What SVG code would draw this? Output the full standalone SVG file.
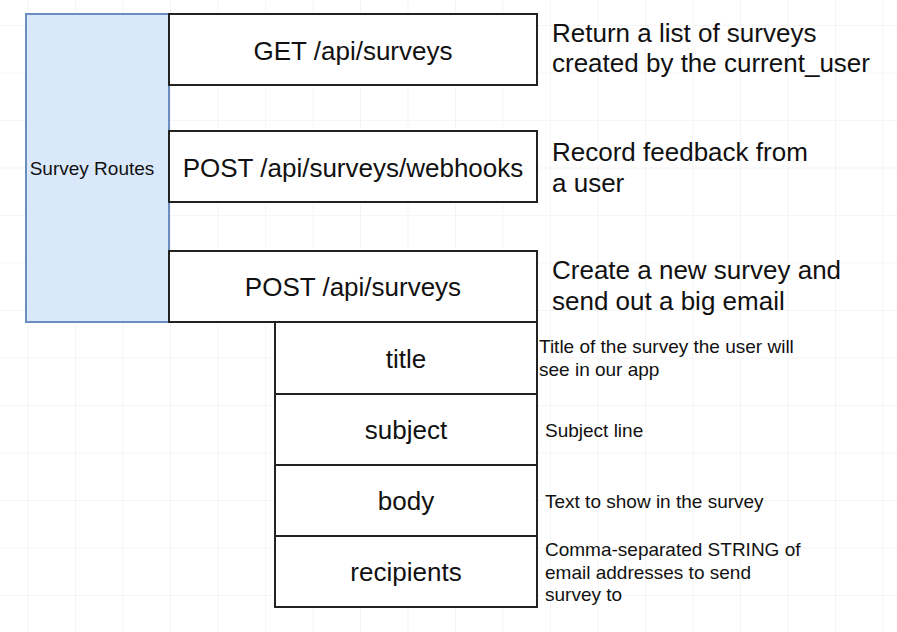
<svg xmlns="http://www.w3.org/2000/svg" width="897" height="632" viewBox="0 0 897 632">
<defs>
<pattern id="grid" x="27.5" y="25" width="47.5" height="47.5" patternUnits="userSpaceOnUse">
<path d="M0 0H47.5M0 0V47.5" fill="none" stroke="#ececec" stroke-width="1"/>
</pattern>
</defs>
<style>
.box{fill:#fff;stroke:#222;stroke-width:2}
.group{fill:#dae8fc;stroke:#6c8ebf;stroke-width:2}
.lbl{font-family:"Liberation Sans",Arial,Helvetica,sans-serif;fill:#111;text-anchor:middle;font-size:26px}
.note{font-family:"Liberation Sans",Arial,Helvetica,sans-serif;fill:#111;font-size:26px}
.small{font-family:"Liberation Sans",Arial,Helvetica,sans-serif;fill:#111;font-size:19px}
</style>
<rect width="897" height="632" fill="#fff"/>
<rect width="897" height="632" fill="url(#grid)"/>
<g id="survey-routes">
<rect class="group" x="26" y="14" width="143" height="308"/>
<text class="small" x="92" y="175" text-anchor="middle">Survey Routes</text>
</g>
<g id="get-surveys">
<rect class="box" x="169" y="14" width="368" height="71"/>
<text class="lbl" x="353" y="60">GET /api/surveys</text>
</g>
<g id="post-webhooks">
<rect class="box" x="169" y="131" width="368" height="71"/>
<text class="lbl" x="353" y="177">POST /api/surveys/webhooks</text>
</g>
<g id="post-surveys">
<rect class="box" x="169" y="251" width="368" height="71"/>
<text class="lbl" x="353" y="296">POST /api/surveys</text>
</g>
<g id="title">
<rect class="box" x="275" y="322" width="262" height="72"/>
<text class="lbl" x="406" y="368">title</text>
</g>
<g id="subject">
<rect class="box" x="275" y="394" width="262" height="71"/>
<text class="lbl" x="406" y="439">subject</text>
</g>
<g id="body">
<rect class="box" x="275" y="465" width="262" height="71"/>
<text class="lbl" x="406" y="510">body</text>
</g>
<g id="recipients">
<rect class="box" x="275" y="536" width="262" height="71"/>
<text class="lbl" x="406" y="581">recipients</text>
</g>
<g id="notes">
<text class="note" x="552" y="42">Return a list of surveys</text>
<text class="note" x="552" y="72">created by the current_user</text>
<text class="note" x="552" y="161">Record feedback from</text>
<text class="note" x="552" y="192">a user</text>
<text class="note" x="552" y="279">Create a new survey and</text>
<text class="note" x="552" y="310">send out a big email</text>
<text class="small" x="539" y="353">Title of the survey the user will</text>
<text class="small" x="539" y="376">see in our app</text>
<text class="small" x="545" y="437">Subject line</text>
<text class="small" x="545" y="508">Text to show in the survey</text>
<text class="small" x="545" y="556">Comma-separated STRING of</text>
<text class="small" x="545" y="579">email addresses to send</text>
<text class="small" x="545" y="601">survey to</text>
</g>
<g id="connectors"></g>
</svg>
